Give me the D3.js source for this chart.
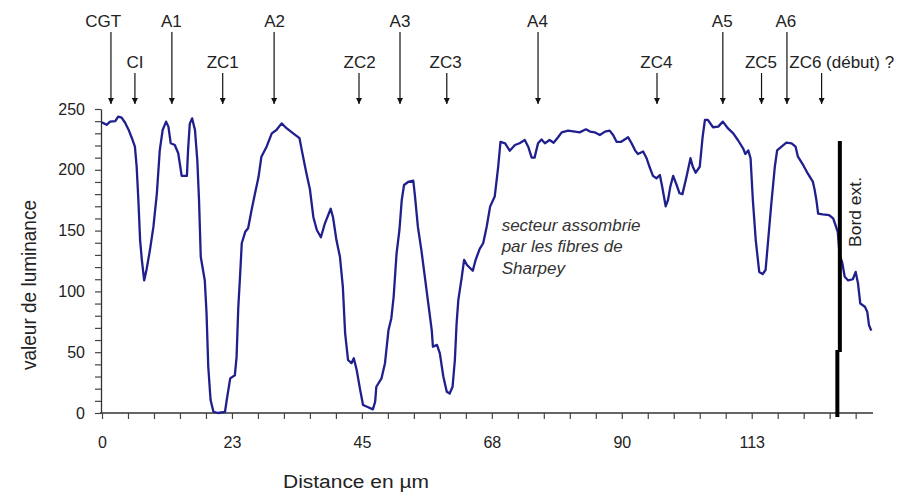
<!DOCTYPE html>
<html><head><meta charset="utf-8">
<script src="https://cdn.jsdelivr.net/npm/d3@7"></script>
<style>body{margin:0;background:#fff}svg{display:block}text{font-family:"Liberation Sans",Arial,sans-serif}</style>
</head><body><svg id="c" width="915" height="495"></svg>
<script>
// Distance (µm) and luminance values
const distance = [0,0.8,1.4,2.3,2.8,3.4,4.0,4.6,5.1,5.7,6.0,6.3,6.6,6.9,7.3,7.7,8.3,8.9,9.5,10.0,10.5,11.1,11.5,11.9,12.6,13.2,13.8,14.7,14.9,15.2,15.6,16.1,16.5,16.8,17.1,17.8,18.1,18.4,18.8,19.3,20.1,21.3,21.6,22.2,23.0,23.3,23.6,23.9,24.2,24.8,25.3,25.9,26.5,27.1,27.6,28.5,29.4,30.2,31.1,32.0,33.1,34.2,34.6,35.4,36.0,36.6,37.2,37.9,38.6,39.6,40.0,40.6,41.2,41.7,42.1,42.6,43.2,43.6,44.1,44.7,45.2,46.1,46.9,47.3,47.5,48.4,49.0,49.6,50.1,50.5,51.0,51.5,51.9,52.3,53.0,53.9,54.2,54.7,55.3,55.9,56.5,57.1,57.3,58.0,58.5,59.1,59.7,60.2,60.7,61.1,61.4,61.7,62.3,62.7,63.2,64.2,64.7,65.4,66.0,66.6,67.2,68.0,68.6,69.0,69.8,70.6,71.5,72.3,73.2,73.8,74.4,74.9,75.5,76.1,76.7,77.5,78.2,79.0,79.6,80.7,81.9,82.7,83.8,84.5,85.3,86.2,87.1,87.9,88.5,89.1,89.9,91.1,91.7,92.3,92.8,93.7,94.3,94.8,95.4,96.0,96.6,97.0,97.6,98.0,98.4,98.9,99.5,100.0,100.5,101.2,101.9,102.3,102.8,103.5,104.0,104.4,104.9,105.8,106.7,107.5,108.4,109.3,110.1,111.0,111.4,111.9,112.3,112.7,113.2,113.8,114.4,114.9,115.3,115.9,116.5,116.9,117.3,118.5,119.4,120.1,120.5,121.4,122.2,123.1,123.4,123.7,124.0,124.8,125.9,126.6,127.0,127.4,127.7,128.2,128.6,129.2,130.0,130.5,130.9,131.3,132.1,132.5,132.8,133.2];
const luminance = [239,237,239.6,240,243.7,243,238.7,233,227,219,202.5,175,142,126,109,117.6,134,153,180.7,216,232.7,239.6,235.5,221.8,220.4,213.6,195,195,216,238,242.3,232.7,208,175,128.5,109,82,38,10.7,1,0,1,10.7,28.5,31,46,87,112,139.6,149,152,167,180.7,194,210.8,219,230,232.7,238.2,234,230,226,216,197,184,161,150.5,144.5,156,168,161,142,128.5,104,65.5,43.6,41,45,35.4,19,6.6,4.7,3,9.3,21.6,28.5,41,68,78,95.6,131,150.5,175,187.5,190,191,178,153,134,112,90,68,54.5,56,49,30,17.5,16,21.6,43.6,73.8,93,112,126,121.7,117,126,135,139.6,153,169.7,178,202.5,223,221.8,215.7,220.4,221.8,224.5,219,210,210,221.8,225,221.8,224.5,222.3,227,230.8,232.2,231.4,230.8,233.3,231.4,230.8,228.6,231.4,232.2,228.6,223,223,226.7,221.8,216,213,215,209.5,202.5,195,193,195.7,186,170,175,186,195,187.5,180.7,180,194,209.5,202.5,197.6,202.5,227,241,241,235,235.5,239.6,234,230,224.5,217.7,213,216,209.5,175,142,116,114.3,117.6,139.6,172.5,202.5,216,217.7,222.3,221.8,219,210.8,204,197,190,183.4,175,164,163.4,162.8,160,154.6,149,131,123,112,109,110,116,106.7,90,87.4,83.3,72.4,67.7];

// Tick values
const xTickValues = d3.range(0, 131, 4.5);
const xLabelEvery = 22.5;
const yTickValues = d3.range(0, 251, 10);
const yLabelEvery = 50;

// Annotations (top arrows)
const annoNames = ["CGT","CI","A1","ZC1","A2","ZC2","A3","ZC3","A4","ZC4","A5","ZC5","A6","ZC6 (début) ?"];
const annoArrowX = [1.55,5.7,12.1,20.9,29.8,44.5,51.6,59.7,75.5,96.1,107.5,114.2,118.6,124.6];
const annoLabelX = [0.2,5.7,12.0,20.9,29.9,44.6,51.6,59.5,75.4,96.0,107.4,114.1,118.4,119.0];
const annoLong = [true,false,true,false,true,false,true,false,true,false,true,false,true,false];

const bordX = 127.5;
const noteLines = ["secteur assombrie","par les fibres de","Sharpey"];
const noteX = 69.2, noteY = [150, 132, 114];

const svg = d3.select("#c");
svg.append("rect").attr("width",915).attr("height",495).attr("fill","#fff");

const x = d3.scaleLinear().domain([0,133.5]).range([102,873]);
const y = d3.scaleLinear().domain([0,250]).range([413,109]);
const txt = "#222";

// X axis
const xa = svg.append("g").attr("transform","translate(0,413)")
  .call(d3.axisBottom(x).tickValues(xTickValues).tickSize(6).tickSizeOuter(0).tickPadding(18)
    .tickFormat(d => (Math.abs(d/xLabelEvery - Math.round(d/xLabelEvery))<1e-9) ? String(Math.round(d)) : ""));
xa.select(".domain").attr("d","M100,0H873").attr("stroke","#333").attr("stroke-width",1.3);
xa.selectAll(".tick line").attr("stroke","#444").attr("stroke-width",1.2);
xa.selectAll(".tick text").attr("font-size",16).attr("fill",txt).attr("font-family","Liberation Sans, Arial, sans-serif");

// Y axis
const ya = svg.append("g").attr("transform","translate(101,0)")
  .call(d3.axisLeft(y).tickValues(yTickValues).tickSize(6).tickSizeOuter(0).tickPadding(10)
    .tickFormat(d => d % yLabelEvery === 0 ? String(d) : ""));
ya.select(".domain").attr("stroke","#333").attr("stroke-width",1.3);
ya.selectAll(".tick line").attr("stroke","#444").attr("stroke-width",1.2);
ya.selectAll(".tick text").attr("font-size",16).attr("fill",txt).attr("font-family","Liberation Sans, Arial, sans-serif");

// Axis titles
svg.append("text").attr("x",283).attr("y",488).attr("font-size",18).attr("fill",txt)
  .attr("textLength",146).attr("lengthAdjust","spacingAndGlyphs").text("Distance en µm");
svg.append("text").attr("transform","translate(36,370) rotate(-90)").attr("font-size",21).attr("fill",txt)
  .attr("textLength",170).attr("lengthAdjust","spacingAndGlyphs").text("valeur de luminance");

// Curve
const pts = distance.map((d,i)=>[d, luminance[i]]);
svg.append("path").datum(pts)
  .attr("d", d3.line().x(d=>x(d[0])).y(d=>y(d[1])))
  .attr("fill","none").attr("stroke","#1f1f8e").attr("stroke-width",2.3).attr("stroke-linejoin","round");

// Bord ext. thick line
svg.append("line").attr("x1",x(bordX)+1.5).attr("x2",x(bordX)+1.5).attr("y1",141).attr("y2",352)
  .attr("stroke","#000").attr("stroke-width",4);
svg.append("line").attr("x1",x(bordX)-1).attr("x2",x(bordX)-1).attr("y1",350).attr("y2",417)
  .attr("stroke","#000").attr("stroke-width",4);
svg.append("text").attr("transform",`translate(${x(bordX)+23},247) rotate(-90)`)
  .attr("font-size",17).attr("fill",txt).attr("textLength",70).attr("lengthAdjust","spacingAndGlyphs").text("Bord ext.");

// Note
noteLines.forEach((l,i)=>{
  svg.append("text").attr("x",x(noteX)).attr("y",y(noteY[i])).attr("font-size",17).attr("font-style","italic")
    .attr("fill","#333").text(l);
});

// Arrow marker
svg.append("defs").append("marker").attr("id","ah").attr("viewBox","0 0 10 10").attr("refX",10).attr("refY",5)
  .attr("markerWidth",8).attr("markerHeight",6).attr("markerUnits","userSpaceOnUse").attr("orient","auto")
  .append("path").attr("d","M0,0L10,5L0,10Z").attr("fill","#111");

annoNames.forEach((n,i)=>{
  const ax = x(annoArrowX[i]);
  const y0 = annoLong[i] ? 32 : 73;
  svg.append("line").attr("x1",ax).attr("x2",ax).attr("y1",y0).attr("y2",104)
    .attr("stroke","#111").attr("stroke-width",1.2).attr("marker-end","url(#ah)");
  const isZC6 = i === annoNames.length-1;
  svg.append("text").attr("x", x(annoLabelX[i])).attr("y", annoLong[i] ? 27 : 68)
    .attr("text-anchor", isZC6 ? "start" : "middle").attr("font-size",17).attr("fill",txt).text(n);
});
</script></body></html>
